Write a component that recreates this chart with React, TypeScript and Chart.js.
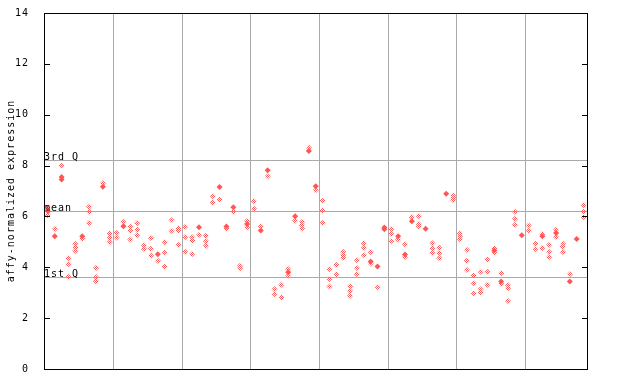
import React, { useEffect, useRef } from 'react';
import { Chart, registerables } from 'chart.js';

Chart.register(...registerables);

// ---- data ----
const SAMPLE_COUNT = 79;
const groupBoundaries = [10, 20, 30, 40, 50, 60, 70];
const yTicks = [0, 2, 4, 6, 8, 10, 12, 14];
const refLabels = ['1st Q', 'mean', '3rd Q'];
const refValues = [3.62, 6.21, 8.22];
const axisTitle = 'affy-normalized expression';

// replicate values (dithered markers), one entry per sample, null = none
const hatch1 = [
  6.35, 5.5, 8.0, 4.37, 4.92, 5.12, 6.38, 3.97, 7.3, 5.32,
  5.35, 5.78, 5.59, 5.74, 4.86, 5.15, 4.26, 4.99, 5.85, 5.53,
  5.59, 5.18, 5.27, 5.24, 6.8, 6.66, 5.52, 6.18, 4.06, 5.82,
  6.6, 5.61, 7.58, 3.14, 3.31, 3.92, 5.84, 5.78, 8.7, 7.03,
  6.62, 3.93, 4.09, 4.6, 3.25, 4.28, 4.95, 4.6, 3.22, null,
  5.51, 5.09, 4.91, 5.97, 6.02, null, 4.95, 4.76, null, 6.82,
  5.33, 4.69, 3.67, 3.82, 4.32, 4.74, 3.77, 3.29, 6.18, null,
  5.64, 4.93, 5.31, 4.89, 5.48, 4.93, 3.73, null, 6.45,
];
const hatch2 = [
  6.05, null, null, 4.13, 4.78, null, 6.18, 3.62, null, 5.15,
  5.17, null, 5.44, 5.48, 4.72, 4.73, null, 4.57, 5.44, 5.44,
  5.19, 5.05, null, 5.03, 6.56, null, null, null, 3.97, 5.57,
  6.3, null, null, 2.95, 2.81, 3.68, null, 5.65, null, null,
  6.23, 3.54, 3.73, 4.48, 3.07, 3.97, 4.76, 4.15, null, null,
  5.31, null, 4.4, null, 5.7, null, 4.73, 4.56, null, 6.73,
  5.22, 4.26, 3.38, 3.14, 3.81, 4.59, 3.35, 3.18, 5.9, null,
  5.43, 4.72, 4.76, 4.6, 5.19, 4.82, null, null, 6.18,
];
const hatch3 = [
  null, null, null, 3.62, 4.65, null, 5.74, 3.45, null, 4.98,
  null, null, 5.09, 5.27, null, 4.46, null, 4.03, null, 4.88,
  4.6, 4.52, null, 4.84, null, null, null, null, null, null,
  null, null, null, null, null, null, null, 5.53, null, null,
  5.74, 3.24, null, 4.37, 2.88, 3.73, 4.48, null, null, null,
  5.03, null, null, null, 5.61, null, 4.56, 4.36, null, 6.65,
  5.1, 3.9, 2.98, 3.02, 3.31, null, null, 2.67, 5.66, null,
  null, null, null, 4.4, null, 4.6, null, null, 5.98,
];
// overlapping replicates (solid markers)
const solid1 = [
  6.2, 5.22, 7.55, null, null, 5.22, null, null, 7.17, null,
  null, 5.61, null, null, null, null, 4.51, null, null, null,
  null, null, 5.57, null, null, 7.16, 5.6, 6.36, null, 5.7,
  null, 5.45, 7.82, null, null, 3.8, 6.01, null, 8.57, 7.19,
  null, null, null, null, null, null, null, 4.23, 4.03, 5.56,
  null, 5.22, 4.5, 5.81, null, 5.52, null, null, 6.89, null,
  null, null, null, null, null, 4.66, 3.44, null, null, 5.26,
  null, null, 5.22, null, 5.35, null, 3.44, 5.11, null,
];
const solid2 = [
  null, null, 7.45, null, null, null, null, null, null, null,
  null, null, null, null, null, null, null, null, null, null,
  null, null, null, null, null, null, null, null, null, null,
  null, null, null, null, null, null, null, null, null, null,
  null, null, null, null, null, null, null, null, null, 5.5,
  null, null, null, null, null, null, null, null, null, null,
  null, null, null, null, null, null, null, null, null, null,
  null, null, null, null, null, null, null, null, null,
];

const RED = '#ff5555';
const GRID = '#aaaaaa';
const FONT = 'DejaVu Sans Mono';

function toPoints(arr: (number | null)[]) {
  const out: { x: number; y: number }[] = [];
  arr.forEach((v, i) => {
    if (v !== null) out.push({ x: i + 0.45, y: v });
  });
  return out;
}

const framePlugin = {
  id: 'framePlugin',
  beforeDraw(chart: any) {
    chart.ctx.letterSpacing = '1px';
  },
  beforeDatasetsDraw(chart: any) {
    const { ctx, chartArea, scales } = chart;
    const y = scales.y;
    ctx.save();
    ctx.strokeStyle = GRID;
    ctx.lineWidth = 1;
    refValues.forEach((v) => {
      const py = Math.round(y.getPixelForValue(v)) + 0.5;
      ctx.beginPath();
      ctx.moveTo(chartArea.left, py);
      ctx.lineTo(chartArea.right, py);
      ctx.stroke();
    });
    ctx.restore();
  },
  afterDatasetsDraw(chart: any) {
    const { ctx, chartArea, scales } = chart;
    const y = scales.y;
    const { left, right, top, bottom } = chartArea;
    ctx.save();
    ctx.letterSpacing = '1px';
    ctx.font = `10px "${FONT}"`;
    ctx.fillStyle = '#000';
    ctx.textAlign = 'left';
    ctx.textBaseline = 'alphabetic';
    refValues.forEach((v, i) => {
      const py = Math.round(y.getPixelForValue(v));
      ctx.fillText(refLabels[i], left, py);
    });
    ctx.strokeStyle = '#000';
    ctx.lineWidth = 1;
    ctx.strokeRect(left + 0.5, top + 0.5, right - left - 1, bottom - top);
    ctx.beginPath();
    yTicks.forEach((v) => {
      const py = Math.round(y.getPixelForValue(v)) + 0.5;
      ctx.moveTo(left, py);
      ctx.lineTo(left + 6, py);
      ctx.moveTo(right - 6, py);
      ctx.lineTo(right, py);
    });
    ctx.stroke();
    ctx.restore();
  },
};

export default function App() {
  const ref = useRef<HTMLCanvasElement | null>(null);
  useEffect(() => {
    document.body.style.margin = '0';
    const canvas = ref.current!;
    const ctx = canvas.getContext('2d')!;
    const pc = document.createElement('canvas');
    pc.width = 2;
    pc.height = 2;
    const pctx = pc.getContext('2d')!;
    pctx.fillStyle = RED;
    pctx.fillRect(0, 0, 1, 1);
    pctx.fillRect(1, 1, 1, 1);
    const pattern = ctx.createPattern(pc, 'repeat');

    const marker = (fill: any) => ({
      pointStyle: 'rectRot' as const,
      pointRadius: 3,
      pointHoverRadius: 3,
      pointBackgroundColor: fill,
      pointBorderWidth: 0,
      borderWidth: 0,
      showLine: false,
    });

    const chart = new Chart(canvas, {
      type: 'scatter',
      data: {
        datasets: [
          { data: toPoints(hatch1), ...marker(pattern) },
          { data: toPoints(hatch2), ...marker(pattern) },
          { data: toPoints(hatch3), ...marker(pattern) },
          { data: toPoints(solid1), ...marker(RED) },
          { data: toPoints(solid2), ...marker(RED) },
        ],
      },
      options: {
        animation: false,
        responsive: false,
        devicePixelRatio: 1,
        events: [],
        layout: { padding: { top: 13, right: 52, bottom: 15, left: 0 } },
        plugins: { legend: { display: false }, tooltip: { enabled: false } },
        scales: {
          x: {
            type: 'linear',
            min: -0.12,
            max: SAMPLE_COUNT + 0.1,
            afterBuildTicks: (s: any) => {
              s.ticks = groupBoundaries.map((v) => ({ value: v }));
            },
            afterFit: (s: any) => {
              s.height = 0;
            },
            ticks: { display: false },
            grid: { color: GRID, lineWidth: 1, drawTicks: false },
            border: { display: false },
          },
          y: {
            type: 'linear',
            min: 0,
            max: 14,
            afterBuildTicks: (s: any) => {
              s.ticks = yTicks.map((v) => ({ value: v }));
            },
            afterFit: (s: any) => {
              s.width = 44;
            },
            ticks: { color: '#000', padding: 7, font: { family: FONT, size: 10 } },
            grid: { display: false },
            border: { display: false },
            title: {
              display: true,
              text: axisTitle,
              color: '#000',
              font: { family: FONT, size: 10 },
              padding: { top: 5, bottom: 0 },
            },
          },
        },
      },
      plugins: [framePlugin],
    });
    return () => chart.destroy();
  }, []);
  return (
    <div style={{ width: 640, height: 384 }}>
      <canvas ref={ref} width={640} height={384} />
    </div>
  );
}
